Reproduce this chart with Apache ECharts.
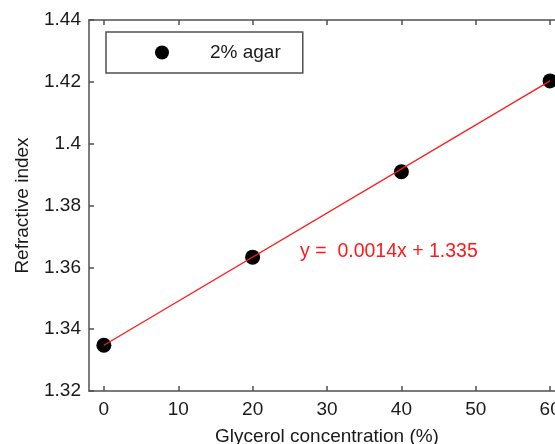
<!DOCTYPE html>
<html>
<head>
<meta charset="utf-8">
<script src="https://cdn.jsdelivr.net/npm/echarts@6/dist/echarts.min.js"></script>
<style>
html,body{margin:0;padding:0;background:#fff;}
#chart{width:555px;height:444px;}
</style>
</head>
<body>
<div id="chart"></div>
<script>
// Data
const glycerol = [0, 20, 40, 60];
const refractiveIndex = [1.3348, 1.3633, 1.3909, 1.4203];
const fitX = [0, 60];
const fitY = [1.3348, 1.4203];
const xTicks = [0, 10, 20, 30, 40, 50, 60];
const yTicks = [1.32, 1.34, 1.36, 1.38, 1.40, 1.42, 1.44];
const seriesName = '2% agar';
const fitLabel = 'y =  0.0014x + 1.335';
const xTitle = 'Glycerol concentration (%)';
const yTitle = 'Refractive index';

const FONT = 'Liberation Sans, Arial, sans-serif';
const AX = '#505050';
const TXT = '#1a1a1a';

const chart = echarts.init(document.getElementById('chart'), null, {renderer: 'canvas'});

const axisLineStyle = {show: true, onZero: false, lineStyle: {color: AX, width: 1.5}};
const tickStyle = {show: true, inside: true, length: 5, lineStyle: {color: AX, width: 1.5}};

chart.setOption({
  animation: false,
  backgroundColor: '#fff',
  grid: {left: 89, top: 20, width: 476, height: 371, containLabel: false, outerBoundsMode: 'none'},
  legend: {
    show: true,
    left: 106,
    top: 32,
    orient: 'horizontal',
    data: [{name: seriesName, icon: 'circle'}],
    itemWidth: 14,
    itemHeight: 14,
    padding: [11, 22, 11, 49],
    borderColor: AX,
    borderWidth: 1.5,
    borderRadius: 0,
    textStyle: {fontSize: 19, fontFamily: FONT, color: TXT, padding: [0, 0, 0, 36]}
  },
  xAxis: [{
    type: 'value',
    position: 'bottom',
    min: -2,
    max: 62,
    axisLine: axisLineStyle,
    axisTick: Object.assign({}, tickStyle, {customValues: xTicks}),
    axisLabel: {customValues: xTicks, fontSize: 19, fontFamily: FONT, color: TXT, margin: 9},
    splitLine: {show: false},
    name: xTitle,
    nameLocation: 'middle',
    nameGap: 36,
    nameTextStyle: {fontSize: 19, fontFamily: FONT, color: TXT}
  }, {
    type: 'value',
    position: 'top',
    min: -2,
    max: 62,
    axisLine: axisLineStyle,
    axisTick: Object.assign({}, tickStyle, {customValues: xTicks}),
    axisLabel: {show: false},
    splitLine: {show: false}
  }],
  yAxis: [{
    type: 'value',
    position: 'left',
    min: 1.32,
    max: 1.44,
    axisLine: axisLineStyle,
    axisTick: Object.assign({}, tickStyle, {customValues: yTicks}),
    axisLabel: {
      customValues: yTicks,
      fontSize: 19, fontFamily: FONT, color: TXT, margin: 8,
      formatter: v => String(+(+v).toFixed(2))
    },
    splitLine: {show: false},
    name: yTitle,
    nameLocation: 'middle',
    nameGap: 57,
    nameTextStyle: {fontSize: 19, fontFamily: FONT, color: TXT}
  }, {
    type: 'value',
    position: 'right',
    min: 1.32,
    max: 1.44,
    axisLine: axisLineStyle,
    axisTick: Object.assign({}, tickStyle, {customValues: yTicks}),
    axisLabel: {show: false},
    splitLine: {show: false}
  }],
  series: [{
    name: 'fit',
    type: 'line',
    xAxisIndex: 0,
    yAxisIndex: 0,
    data: fitX.map((x, i) => [x, fitY[i]]),
    showSymbol: false,
    symbol: 'none',
    lineStyle: {color: '#ff1a1a', width: 1.3},
    z: 3
  }, {
    name: seriesName,
    type: 'scatter',
    xAxisIndex: 0,
    yAxisIndex: 0,
    data: glycerol.map((x, i) => [x, refractiveIndex[i]]),
    symbol: 'circle',
    symbolSize: 15,
    itemStyle: {color: '#000', opacity: 1},
    z: 2
  }],
  graphic: [{
    type: 'text',
    left: 300,
    top: 242,
    style: {text: fitLabel, fill: '#ff1a1a', fontSize: 19.5, fontFamily: FONT}
  }]
});
</script>
</body>
</html>
